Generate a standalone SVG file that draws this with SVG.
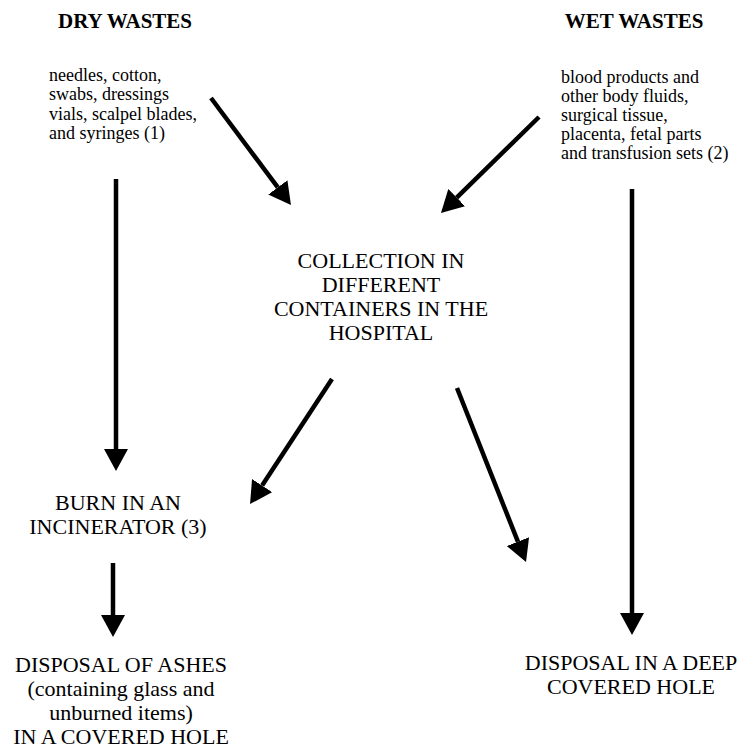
<svg xmlns="http://www.w3.org/2000/svg" width="740" height="748" viewBox="0 0 740 748" font-family="'Liberation Serif', 'Times New Roman', Times, 'DejaVu Serif', serif">
<style>
text{font-family:'Liberation Serif','Times New Roman',Times,'DejaVu Serif',serif;fill:#000}
.h{font-size:21px;font-weight:bold;text-anchor:middle}
.s{font-size:18px}
.n{font-size:22px;text-anchor:middle}
.c line{stroke:#000;stroke-width:4.5;marker-end:url(#ah)}
</style>
<defs>
<marker id="ah" viewBox="0 0 22 24" refX="0" refY="12" markerUnits="userSpaceOnUse" markerWidth="22" markerHeight="24" orient="auto">
<path d="M0,0 L22,12 L0,24 Z" fill="#000"/>
</marker>
</defs>
<rect width="740" height="748" fill="#fff"/>
<g id="dry-wastes">
<text class="h" x="125" y="28">DRY WASTES</text>
<text class="s" x="49" y="81">needles, cotton,</text>
<text class="s" x="49" y="100">swabs, dressings</text>
<text class="s" x="49" y="120">vials, scalpel blades,</text>
<text class="s" x="49" y="139">and syringes (1)</text>
</g>
<g id="wet-wastes">
<text class="h" x="634" y="28">WET WASTES</text>
<text class="s" x="561" y="83">blood products and</text>
<text class="s" x="561" y="102">other body fluids,</text>
<text class="s" x="561" y="121">surgical tissue,</text>
<text class="s" x="561" y="140">placenta, fetal parts</text>
<text class="s" x="561" y="159">and transfusion sets (2)</text>
</g>
<g id="collection">
<text class="n" x="381" y="268">COLLECTION IN</text>
<text class="n" x="381" y="292">DIFFERENT</text>
<text class="n" x="381" y="316">CONTAINERS IN THE</text>
<text class="n" x="381" y="340">HOSPITAL</text>
</g>
<g id="burn">
<text class="n" x="118" y="510">BURN IN AN</text>
<text class="n" x="118" y="534">INCINERATOR (3)</text>
</g>
<g id="ashes">
<text class="n" x="121" y="672">DISPOSAL OF ASHES</text>
<text class="n" x="121" y="696">(containing glass and</text>
<text class="n" x="121" y="720">unburned items)</text>
<text class="n" x="121" y="744">IN A COVERED HOLE</text>
</g>
<g id="deep-hole">
<text class="n" x="631" y="670">DISPOSAL IN A DEEP</text>
<text class="n" x="631" y="694">COVERED HOLE</text>
</g>
<g id="connectors" class="c">
<line x1="211" y1="98" x2="277.8" y2="187.4"/>
<line x1="539" y1="117" x2="456.7" y2="197.6"/>
<line x1="116" y1="179" x2="116" y2="449"/>
<line x1="632" y1="189" x2="632" y2="613"/>
<line x1="332" y1="379" x2="262.1" y2="485.6"/>
<line x1="457" y1="388" x2="517.9" y2="541.6"/>
<line x1="113" y1="563" x2="113" y2="615"/>
</g>
</svg>
